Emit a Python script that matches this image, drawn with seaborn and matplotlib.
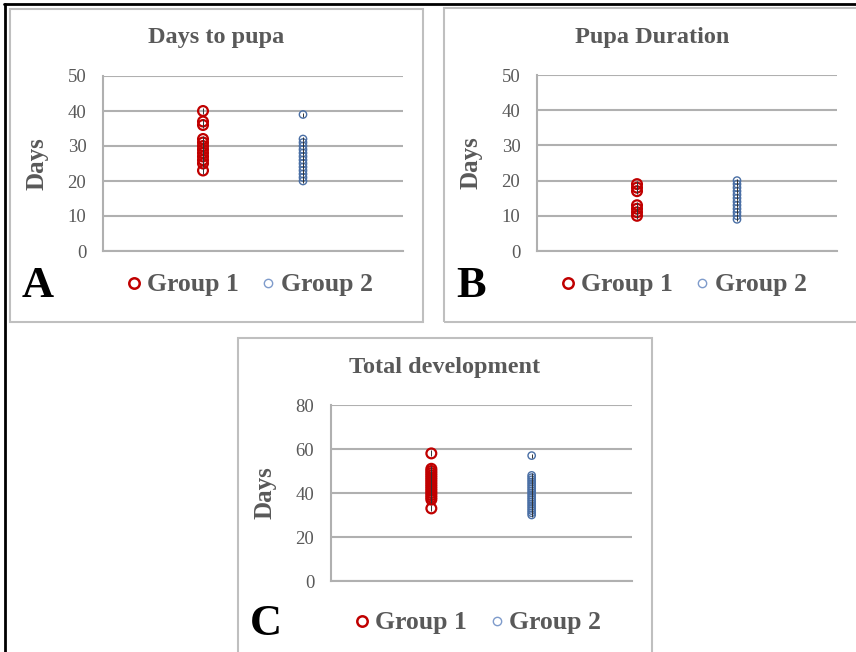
import matplotlib
matplotlib.use("Agg")
import matplotlib.pyplot as plt
import numpy as np
import pandas as pd
import seaborn as sns
from matplotlib.lines import Line2D
from matplotlib.patches import Rectangle

# values (days)
groups = ["Group 1", "Group 2"]
pupa_days_g1 = [40, 37, 36, 32, 31, 30, 29, 28, 27, 26, 25, 23]
pupa_days_g2 = [39, 32, 31, 30, 29, 28, 27, 26, 25, 24, 23, 22, 21, 20]
pupa_dur_g1 = [19, 18, 17, 13, 12, 11, 10]
pupa_dur_g2 = [20, 19, 18, 17, 16, 15, 14, 13, 12, 11, 10, 9]
total_dev_g1 = [58, 51, 50, 49, 48, 47, 46, 45, 44, 43, 42, 41, 40, 39, 38, 37, 33]
total_dev_g2 = [57, 48, 47, 46, 45, 44, 43, 42, 41, 40, 39, 38, 37, 36, 35, 34, 33, 32, 31, 30]

panel_titles = ["Days to pupa", "Pupa Duration", "Total development"]
panel_letters = ["A", "B", "C"]
panel_yticks = [[0, 10, 20, 30, 40, 50], [0, 10, 20, 30, 40, 50], [0, 20, 40, 60, 80]]

W, H = 856, 652
RED = "#C00000"
BLUE = "#4A6FA5"
BLUE_LIGHT = "#7E9BCB"
GREY_TXT = "#595959"
GRID = "#B0B0B0"
SERIF = ["Liberation Serif", "DejaVu Serif"]

sns.set_theme(style="white")
plt.rcParams["font.family"] = SERIF


def px_rect(x0, y0, x1, y1):
    return [x0 / W, 1 - y1 / H, (x1 - x0) / W, (y1 - y0) / H]


def draw_panel(fig, box, ax_px, g1, g2, title, letter, yticks):
    bx0, by0, bx1, by1 = box
    fig.add_artist(Rectangle((bx0 / W, 1 - by1 / H), (bx1 - bx0) / W, (by1 - by0) / H,
                             transform=fig.transFigure, fill=False, ec="#BFBFBF", lw=1.5))
    ax = fig.add_axes(px_rect(*ax_px))
    df = pd.DataFrame({
        "pos": [1] * len(g1) + [2] * len(g2),
        "days": list(g1) + list(g2),
        "group": [groups[0]] * len(g1) + [groups[1]] * len(g2),
    })
    styles = {groups[0]: (RED, 50, 1.6), groups[1]: (BLUE, 28, 1.0)}
    for grp, (col, size, lw) in styles.items():
        sub = df[df["group"] == grp]
        n0 = len(ax.collections)
        sns.scatterplot(data=sub, x="pos", y="days", ax=ax, s=size, legend=False, zorder=3)
        for c in ax.collections[n0:]:
            c.set_facecolor("none")
            c.set_edgecolor(col)
            c.set_linewidth(lw)
        # thin dark tick through each marker
        sns.scatterplot(data=sub, x="pos", y="days", ax=ax, marker="|", s=size * 0.45,
                        color="#333333", linewidth=0.7, legend=False, zorder=4)

    ax.set_xlim(0, 3)
    ax.set_ylim(yticks[0], yticks[-1])
    ax.set_yticks(yticks)
    ax.set_xticks([])
    ax.yaxis.grid(True, color=GRID, lw=1.5)
    ax.set_axisbelow(True)
    for s in ["top", "right"]:
        ax.spines[s].set_visible(False)
    for s in ["left", "bottom"]:
        ax.spines[s].set_color(GRID)
        ax.spines[s].set_linewidth(1.5)
    ax.tick_params(axis="y", length=0, pad=12, labelsize=13.5, labelcolor=GREY_TXT)
    ax.set_xlabel("")
    ax.set_ylabel("Days", fontsize=18, fontweight="bold", color=GREY_TXT, labelpad=14)

    fig.text((bx0 + bx1) / 2 / W, 1 - (by0 + 29) / H, title, ha="center", va="center",
             fontsize=17.5, fontweight="bold", color=GREY_TXT)
    fig.text((bx0 + 12) / W, 1 - (by1 - 36) / H, letter, ha="left", va="center",
             fontsize=32, fontweight="bold", color="black")

    handles = [
        Line2D([], [], ls="none", marker="o", ms=7.5, mfc="none", mec=RED, mew=1.8),
        Line2D([], [], ls="none", marker="o", ms=6, mfc="none", mec=BLUE_LIGHT, mew=1.0),
    ]
    leg_y = 1 - (by1 - 37) / H
    fig.legend(handles, groups, loc="center",
               bbox_to_anchor=((ax_px[0] + ax_px[2]) / 2 / W - 0.004, leg_y),
               ncol=2, frameon=False, handlelength=0.6, handletextpad=0.2, columnspacing=0.85,
               prop={"family": SERIF, "weight": "bold", "size": 18.5}, labelcolor=GREY_TXT)
    return ax


fig = plt.figure(figsize=(W / 100, H / 100), dpi=100)

# outer black frame (top and left edges)
fig.add_artist(Line2D([4 / W, 1], [1 - 4 / H, 1 - 4 / H], transform=fig.transFigure, color="black", lw=2))
fig.add_artist(Line2D([5 / W, 5 / W], [0, 1 - 4 / H], transform=fig.transFigure, color="black", lw=2))

draw_panel(fig, (10, 9, 423, 322), (103, 76, 403, 251), pupa_days_g1, pupa_days_g2,
           panel_titles[0], panel_letters[0], panel_yticks[0])
draw_panel(fig, (444, 8, 860, 322), (537, 75, 837, 251), pupa_dur_g1, pupa_dur_g2,
           panel_titles[1], panel_letters[1], panel_yticks[1])
draw_panel(fig, (238, 338, 652, 660), (331, 405, 632, 581), total_dev_g1, total_dev_g2,
           panel_titles[2], panel_letters[2], panel_yticks[2])

fig.savefig("out.png", dpi=100)
